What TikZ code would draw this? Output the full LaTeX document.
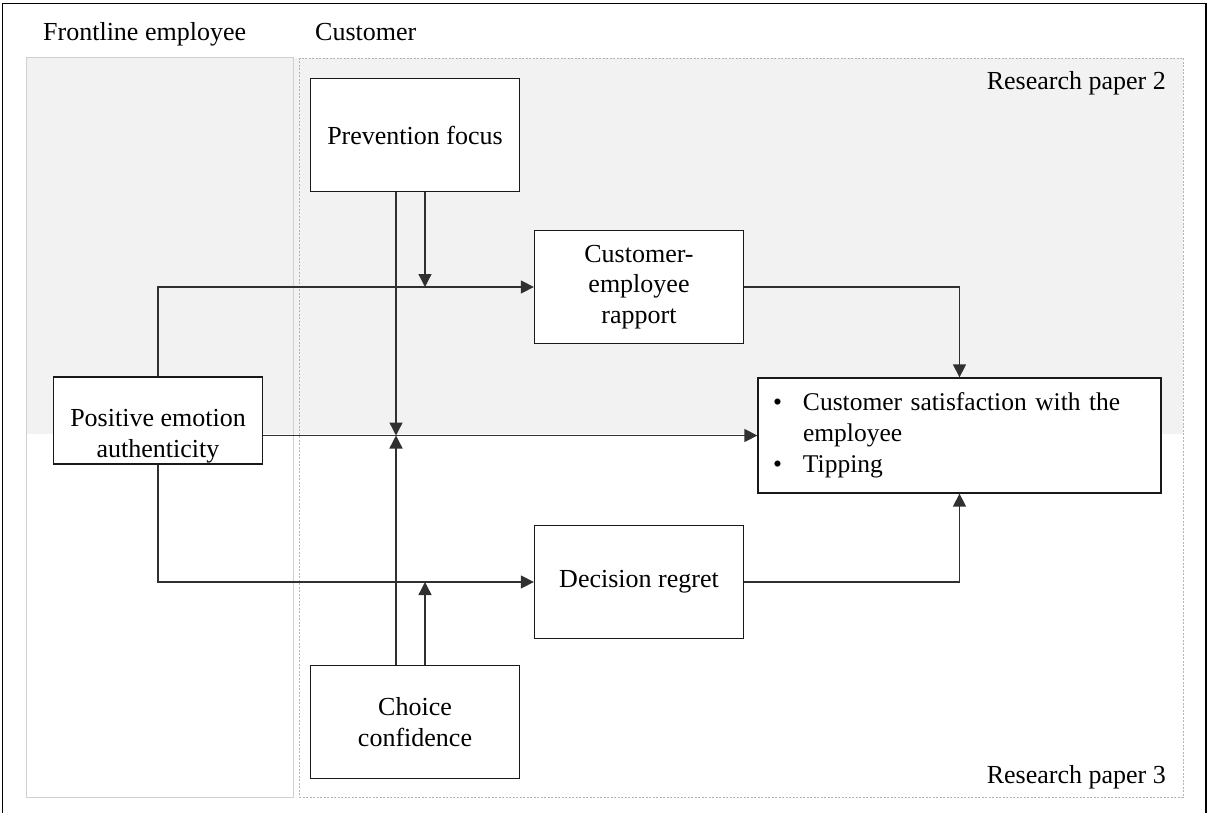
\documentclass[tikz,border=0pt]{standalone}
\usepackage{fontspec}
\setmainfont{Liberation Serif}
\usetikzlibrary{arrows.meta}
\definecolor{bandgray}{HTML}{F2F2F2}
\definecolor{colborder}{HTML}{D0D0D0}
\definecolor{dashborder}{HTML}{B4B4B4}
\definecolor{linecol}{HTML}{303030}
\begin{document}
\begin{tikzpicture}[x=1pt,y=-1pt,
  box/.style={draw=black!90, line width=1.3pt, fill=white, minimum width=209pt,
    minimum height=113pt, align=center, inner sep=0pt,
    font=\fontsize{26}{30.5}\selectfont},
  conn/.style={draw=linecol, line width=1.4pt},
  arr/.style={conn, -{Triangle[length=13pt,width=13pt]}},
  lbl/.style={font=\fontsize{26}{30.5}\selectfont, inner sep=0pt}
]
\useasboundingbox (0,0) rectangle (1212,813);
% shaded band (Research paper 2)
\fill[bandgray] (26,58) rectangle (1183,433.5);
% columns
\draw[colborder, line width=1pt] (26,58) rectangle (293.5,797);
\draw[dashborder, line width=0.9pt, dash pattern=on 2pt off 1.5pt] (299.5,58) rectangle (1183,797);
% outer frame
\draw[line width=1.3pt] (2.5,830) -- (2.5,3.5) -- (1206,3.5) -- (1206,830);

% headings
\node[lbl, anchor=base west] (hfe) at (43,41) {Frontline employee};
\node[lbl, anchor=base west] (hcu) at (315,41) {Customer};
\node[lbl, anchor=base east] (rp2) at (1166,90) {Research paper 2};
\node[lbl, anchor=base east] (rp3) at (1166,783) {Research paper 3};

% boxes
\node[box] (pf) at (415,135) {Prevention focus};
\node[box] (rap) at (639,287) {Customer-\\employee\\rapport};
\node[box, minimum height=87pt] (pea) at (158,420.5) {};
\node[lbl, align=center] (peatext) at (158,436) {Positive emotion\\authenticity};
\node[box, minimum width=403pt, minimum height=115pt, text width=373pt,
      inner xsep=15pt, align=left, font=\fontsize{25.5}{31}\selectfont] (cs) at (959.5,435.5)
  {\makebox[30pt][l]{•}Customer satisfaction with the\\
   \makebox[30pt][l]{}employee\\
   \makebox[30pt][l]{•}Tipping};
\node[box] (dr) at (639,582) {Decision regret};
\node[box] (cc) at (415,722) {Choice\\confidence};

% connectors
\draw[arr] (pea.north) |- (rap.west);
\draw[arr] (pea.east |- cs.west) -- (cs.west);
\draw[arr] (pea.south) |- (dr.west);
\draw[arr] ([xshift=-19pt]pf.south) -- ([xshift=-19pt]pf.south |- cs.west);
\draw[arr] ([xshift=10pt]pf.south) -- ([xshift=10pt]pf.south |- rap.west);
\draw[arr] ([xshift=-19pt]cc.north) -- ([xshift=-19pt]cc.north |- cs.west);
\draw[arr] ([xshift=10pt]cc.north) -- ([xshift=10pt]cc.north |- dr.west);
\draw[arr] (rap.east) -| (cs.north);
\draw[arr] (dr.east) -| (cs.south);
\end{tikzpicture}
\end{document}
